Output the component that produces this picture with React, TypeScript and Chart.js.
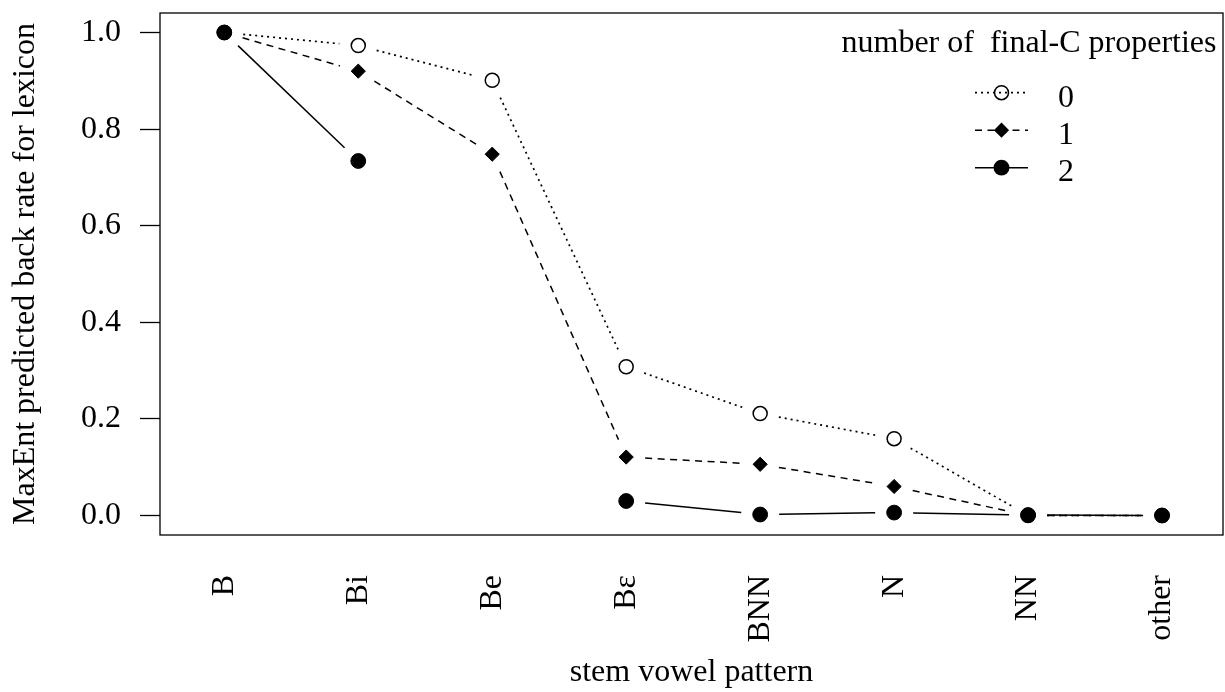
import React, { useEffect, useRef } from 'react';
import { Chart, registerables } from 'chart.js';

Chart.register(...registerables);

// ---- data ----
const categories = ['B', 'Bi', 'Be', 'Bɛ', 'BNN', 'N', 'NN', 'other'];
const seriesNames = ['0', '1', '2'];
const props0: (number | null)[] = [1.0, 0.973, 0.901, 0.308, 0.211, 0.159, 0.0, 0.0];
const props1: (number | null)[] = [1.0, 0.92, 0.748, 0.121, 0.106, 0.06, 0.0, 0.0];
const props2: (number | null)[] = [1.0, 0.734, null, 0.03, 0.002, 0.006, 0.001, 0.0];
const yTicks = [0, 0.2, 0.4, 0.6, 0.8, 1.0];
const legendTitle = 'number of  final-C properties';
const xTitle = 'stem vowel pattern';
const yTitle = 'MaxEnt predicted back rate for lexicon';

// ---- styles ----
const FAMILY = '"Liberation Serif", "Times New Roman", serif';
const FS = 32;
const dashes: number[][] = [[2, 4], [7, 5.5], []];
const widths = [1.7, 1.5, 1.5];
const GAP = 19;

function drawMarker(ctx: CanvasRenderingContext2D, i: number, x: number, y: number) {
  ctx.save();
  ctx.setLineDash([]);
  ctx.fillStyle = '#000';
  ctx.strokeStyle = '#000';
  if (i === 0) {
    ctx.lineWidth = 1.5;
    ctx.beginPath();
    ctx.arc(x, y, 7, 0, Math.PI * 2);
    ctx.stroke();
  } else if (i === 1) {
    const r = 7.6;
    ctx.beginPath();
    ctx.moveTo(x - r, y);
    ctx.lineTo(x, y - r);
    ctx.lineTo(x + r, y);
    ctx.lineTo(x, y + r);
    ctx.closePath();
    ctx.fill();
  } else {
    ctx.beginPath();
    ctx.arc(x, y, 7.9, 0, Math.PI * 2);
    ctx.fill();
  }
  ctx.restore();
}

const gapLines = {
  id: 'gapLines',
  beforeDatasetsDraw(chart: any) {
    const ctx: CanvasRenderingContext2D = chart.ctx;
    const a = chart.chartArea;
    ctx.save();
    ctx.beginPath();
    ctx.rect(a.left, a.top, a.right - a.left, a.bottom - a.top);
    ctx.clip();
    ctx.strokeStyle = '#000';
    chart.data.datasets.forEach((_ds: any, i: number) => {
      const pts = chart.getDatasetMeta(i).data;
      ctx.setLineDash(dashes[i]);
      ctx.lineWidth = widths[i];
      for (let j = 0; j < pts.length - 1; j++) {
        const p = pts[j];
        const q = pts[j + 1];
        if (!p || !q || p.skip || q.skip) continue;
        const dx = q.x - p.x;
        const dy = q.y - p.y;
        const d = Math.hypot(dx, dy);
        if (d <= 2 * GAP) continue;
        const ux = dx / d;
        const uy = dy / d;
        ctx.beginPath();
        ctx.moveTo(p.x + ux * GAP, p.y + uy * GAP);
        ctx.lineTo(q.x - ux * GAP, q.y - uy * GAP);
        ctx.stroke();
      }
    });
    ctx.restore();
  },
};

const boxAndLegend = {
  id: 'boxAndLegend',
  afterDraw(chart: any) {
    const ctx: CanvasRenderingContext2D = chart.ctx;
    const a = chart.chartArea;
    ctx.save();
    ctx.strokeStyle = '#000';
    ctx.lineWidth = 1.3;
    ctx.setLineDash([]);
    ctx.strokeRect(a.left, a.top, a.right - a.left, a.bottom - a.top);

    // legend
    const cx = a.right - 194;
    ctx.font = `${FS}px ${FAMILY}`;
    ctx.fillStyle = '#000';
    ctx.textAlign = 'center';
    ctx.textBaseline = 'alphabetic';
    ctx.fillText(legendTitle, cx, a.top + 39);
    seriesNames.forEach((name, i) => {
      const y = a.top + 79.7 + 37.5 * i;
      const x0 = a.right - 248;
      const x1 = a.right - 195;
      ctx.lineWidth = widths[i];
      ctx.setLineDash(dashes[i]);
      ctx.beginPath();
      ctx.moveTo(x0, y);
      ctx.lineTo(x1, y);
      ctx.stroke();
      drawMarker(ctx, i, (x0 + x1) / 2, y);
      ctx.setLineDash([]);
      ctx.textAlign = 'left';
      ctx.fillText(name, a.right - 165, y + 14.3 - i * 0.5);
    });
    ctx.restore();
  },
};

function zeroPad(s: any) {
  s.paddingTop = 0;
  s.paddingBottom = 0;
  s.paddingLeft = 0;
  s.paddingRight = 0;
}

export default function App() {
  const ref = useRef<HTMLCanvasElement | null>(null);
  useEffect(() => {
    if (!ref.current) return;
    const font = { family: FAMILY, size: FS };
    const series = [props0, props1, props2];
    const pointStyles = [
      { pointStyle: 'circle', pointRadius: 7, pointBackgroundColor: 'rgba(0,0,0,0)', pointBorderColor: '#000', pointBorderWidth: 1.5 },
      { pointStyle: 'rectRot', pointRadius: 7.1, pointBackgroundColor: '#000', pointBorderColor: '#000', pointBorderWidth: 1 },
      { pointStyle: 'circle', pointRadius: 7.4, pointBackgroundColor: '#000', pointBorderColor: '#000', pointBorderWidth: 1 },
    ];
    const chart = new Chart(ref.current, {
      type: 'line',
      data: {
        datasets: series.map((vals, i) => ({
          label: seriesNames[i],
          data: vals.map((v, k) => ({ x: k, y: v })),
          showLine: false,
          borderColor: '#000',
          ...pointStyles[i],
        })) as any,
      },
      options: {
        animation: false,
        responsive: false,
        maintainAspectRatio: false,
        devicePixelRatio: 1,
        events: [],
        layout: { autoPadding: false, padding: { left: 0, right: 2, top: 13, bottom: 0 } },
        plugins: {
          legend: { display: false },
          tooltip: { enabled: false },
        },
        scales: {
          x: {
            type: 'linear',
            min: -0.48,
            max: 7.455,
            afterBuildTicks: (s: any) => {
              s.ticks = categories.map((_, i) => ({ value: i }));
            },
            afterFit: (s: any) => {
              s.height = 157;
              zeroPad(s);
            },
            grid: { display: false, drawTicks: false },
            border: { display: false },
            ticks: {
              autoSkip: false,
              minRotation: 90,
              maxRotation: 90,
              padding: 40,
              color: '#000',
              font,
              callback: (v: any) => categories[Number(v)] ?? '',
            },
            title: {
              display: true,
              text: xTitle,
              color: '#000',
              font,
              padding: { top: 0, bottom: 0 },
            },
          },
          y: {
            type: 'linear',
            min: -0.0404,
            max: 1.0404,
            afterBuildTicks: (s: any) => {
              s.ticks = yTicks.map((v) => ({ value: v }));
            },
            afterFit: (s: any) => {
              s.width = 160;
              zeroPad(s);
            },
            grid: {
              display: true,
              drawOnChartArea: false,
              drawTicks: true,
              tickLength: 20,
              tickColor: '#000',
              tickWidth: 1.3,
              color: '#000',
            },
            border: { display: false },
            ticks: {
              padding: 19,
              color: '#000',
              font,
              callback: (v: any) => Number(v).toFixed(1),
            },
            title: {
              display: true,
              text: yTitle,
              color: '#000',
              font,
              padding: { top: 6.5, bottom: 0 },
            },
          },
        },
      } as any,
      plugins: [gapLines, boxAndLegend],
    });
    return () => chart.destroy();
  }, []);

  return (
    <div style={{ position: 'fixed', left: 0, top: 0, width: 1225, height: 692, background: '#fff' }}>
      <canvas ref={ref} width={1225} height={692} style={{ display: 'block' }} />
    </div>
  );
}
